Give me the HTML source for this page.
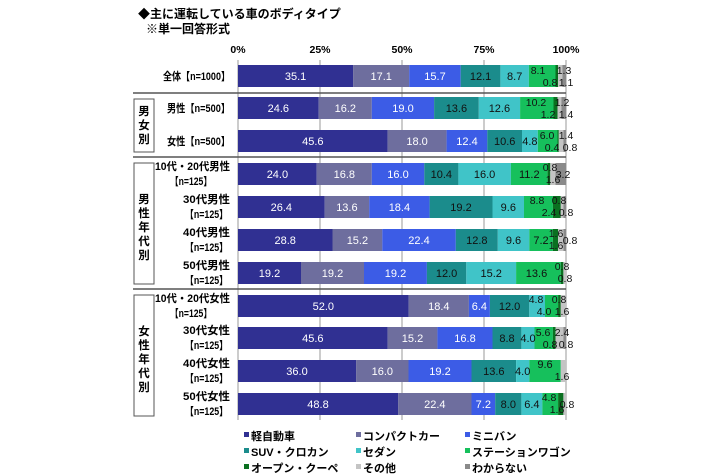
<!DOCTYPE html>
<html><head><meta charset="utf-8"><style>
body{margin:0;background:#fff}
svg{display:block;font-family:"Liberation Sans","Noto Sans CJK JP",sans-serif}
.w{fill:#fff;font-size:11px;text-anchor:middle}
.d{fill:#111;font-size:11px;text-anchor:middle}
.s{fill:#111;font-size:10.5px;text-anchor:middle}
.l{fill:#000;font-size:11px;font-weight:bold;text-anchor:start}
.g{fill:#000;font-size:11.5px;font-weight:bold;text-anchor:middle}
.lg{fill:#000;font-size:11px;font-weight:bold}
</style></head><body>
<svg width="710" height="474" viewBox="0 0 710 474">
<text x="138" y="18" style="font-size:12px;font-weight:bold">◆主に運転している車のボディタイプ</text>
<text x="146" y="33" style="font-size:12px;font-weight:bold">※単一回答形式</text>
<g style="font-size:10.5px;font-weight:bold;text-anchor:middle">
<text x="238" y="53">0%</text><text x="320" y="53">25%</text><text x="402" y="53">50%</text><text x="484" y="53">75%</text><text x="566" y="53">100%</text></g>
<g stroke="#999" stroke-width="1">
<line x1="238" y1="60" x2="238" y2="420"/><line x1="320" y1="60" x2="320" y2="420"/><line x1="402" y1="60" x2="402" y2="420"/><line x1="484" y1="60" x2="484" y2="420"/><line x1="566" y1="60" x2="566" y2="420"/>
</g>
<g stroke="#555" stroke-width="1.5">
<line x1="133" y1="93" x2="566" y2="93"/><line x1="133" y1="157" x2="566" y2="157"/><line x1="133" y1="289" x2="566" y2="289"/></g>
<g fill="none" stroke="#555" stroke-width="1">
<rect x="134" y="99" width="20" height="53"/><rect x="134" y="163" width="20" height="121"/><rect x="134" y="295" width="20" height="121"/></g>
<text class="g" x="144" y="115">男</text><text class="g" x="144" y="129">女</text><text class="g" x="144" y="143">別</text>
<text class="g" x="144" y="203">男</text><text class="g" x="144" y="217">性</text><text class="g" x="144" y="231">年</text><text class="g" x="144" y="245">代</text><text class="g" x="144" y="259">別</text>
<text class="g" x="144" y="335">女</text><text class="g" x="144" y="349">性</text><text class="g" x="144" y="363">年</text><text class="g" x="144" y="377">代</text><text class="g" x="144" y="391">別</text>
<text class="l" x="163" y="80" textLength="67" lengthAdjust="spacingAndGlyphs">全体【n=1000】</text>
<text class="l" x="167" y="112" textLength="63" lengthAdjust="spacingAndGlyphs">男性【n=500】</text>
<text class="l" x="167" y="145" textLength="63" lengthAdjust="spacingAndGlyphs">女性【n=500】</text>
<text class="l" x="155" y="170" textLength="75" lengthAdjust="spacingAndGlyphs">10代・20代男性</text><text class="l" x="170" y="185" textLength="42" lengthAdjust="spacingAndGlyphs">【n=125】</text>
<text class="l" x="183" y="203" textLength="47" lengthAdjust="spacingAndGlyphs">30代男性</text><text class="l" x="185" y="218" textLength="43" lengthAdjust="spacingAndGlyphs">【n=125】</text>
<text class="l" x="183" y="236" textLength="47" lengthAdjust="spacingAndGlyphs">40代男性</text><text class="l" x="185" y="251" textLength="43" lengthAdjust="spacingAndGlyphs">【n=125】</text>
<text class="l" x="183" y="269" textLength="47" lengthAdjust="spacingAndGlyphs">50代男性</text><text class="l" x="185" y="284" textLength="43" lengthAdjust="spacingAndGlyphs">【n=125】</text>
<text class="l" x="155" y="302" textLength="75" lengthAdjust="spacingAndGlyphs">10代・20代女性</text><text class="l" x="170" y="317" textLength="42" lengthAdjust="spacingAndGlyphs">【n=125】</text>
<text class="l" x="183" y="334" textLength="47" lengthAdjust="spacingAndGlyphs">30代女性</text><text class="l" x="185" y="349" textLength="43" lengthAdjust="spacingAndGlyphs">【n=125】</text>
<text class="l" x="183" y="367" textLength="47" lengthAdjust="spacingAndGlyphs">40代女性</text><text class="l" x="185" y="382" textLength="43" lengthAdjust="spacingAndGlyphs">【n=125】</text>
<text class="l" x="183" y="400" textLength="47" lengthAdjust="spacingAndGlyphs">50代女性</text><text class="l" x="185" y="415" textLength="43" lengthAdjust="spacingAndGlyphs">【n=125】</text>
<g>
<rect x="238" y="65" width="115.1" height="22" fill="#303092"/><rect x="353.1" y="65" width="56.1" height="22" fill="#6e6e9e"/><rect x="409.2" y="65" width="51.5" height="22" fill="#3c5ce6"/><rect x="460.7" y="65" width="39.7" height="22" fill="#1b8c8c"/><rect x="500.4" y="65" width="28.5" height="22" fill="#40c4c8"/><rect x="528.9" y="65" width="26.6" height="22" fill="#16c05c"/><rect x="555.5" y="65" width="2.6" height="22" fill="#0a7020"/><rect x="558.1" y="65" width="4.3" height="22" fill="#c4c4c4"/><rect x="562.4" y="65" width="3.6" height="22" fill="#8a8a8a"/>
<rect x="238" y="97" width="80.7" height="22" fill="#303092"/><rect x="318.7" y="97" width="53.1" height="22" fill="#6e6e9e"/><rect x="371.8" y="97" width="62.3" height="22" fill="#3c5ce6"/><rect x="434.1" y="97" width="44.7" height="22" fill="#1b8c8c"/><rect x="478.8" y="97" width="41.3" height="22" fill="#40c4c8"/><rect x="520.1" y="97" width="33.4" height="22" fill="#16c05c"/><rect x="553.5" y="97" width="4" height="22" fill="#0a7020"/><rect x="557.5" y="97" width="3.9" height="22" fill="#c4c4c4"/><rect x="561.4" y="97" width="4.6" height="22" fill="#8a8a8a"/>
<rect x="238" y="130" width="149.6" height="22" fill="#303092"/><rect x="387.6" y="130" width="59" height="22" fill="#6e6e9e"/><rect x="446.6" y="130" width="40.7" height="22" fill="#3c5ce6"/><rect x="487.3" y="130" width="34.7" height="22" fill="#1b8c8c"/><rect x="522" y="130" width="15.8" height="22" fill="#40c4c8"/><rect x="537.8" y="130" width="19.7" height="22" fill="#16c05c"/><rect x="557.5" y="130" width="1.3" height="22" fill="#0a7020"/><rect x="558.8" y="130" width="4.6" height="22" fill="#c4c4c4"/><rect x="563.4" y="130" width="2.6" height="22" fill="#8a8a8a"/>
<rect x="238" y="163" width="78.7" height="22" fill="#303092"/><rect x="316.7" y="163" width="55.1" height="22" fill="#6e6e9e"/><rect x="371.8" y="163" width="52.5" height="22" fill="#3c5ce6"/><rect x="424.3" y="163" width="34.1" height="22" fill="#1b8c8c"/><rect x="458.4" y="163" width="52.5" height="22" fill="#40c4c8"/><rect x="510.9" y="163" width="36.7" height="22" fill="#16c05c"/><rect x="547.6" y="163" width="2.7" height="22" fill="#0a7020"/><rect x="550.3" y="163" width="5.2" height="22" fill="#c4c4c4"/><rect x="555.5" y="163" width="10.5" height="22" fill="#8a8a8a"/>
<rect x="238" y="196" width="86.6" height="22" fill="#303092"/><rect x="324.6" y="196" width="44.6" height="22" fill="#6e6e9e"/><rect x="369.2" y="196" width="60.4" height="22" fill="#3c5ce6"/><rect x="429.6" y="196" width="62.9" height="22" fill="#1b8c8c"/><rect x="492.5" y="196" width="31.5" height="22" fill="#40c4c8"/><rect x="524" y="196" width="28.9" height="22" fill="#16c05c"/><rect x="552.9" y="196" width="7.9" height="22" fill="#0a7020"/><rect x="560.8" y="196" width="2.6" height="22" fill="#c4c4c4"/><rect x="563.4" y="196" width="2.6" height="22" fill="#8a8a8a"/>
<rect x="238" y="229" width="94.5" height="22" fill="#303092"/><rect x="332.5" y="229" width="49.8" height="22" fill="#6e6e9e"/><rect x="382.3" y="229" width="73.5" height="22" fill="#3c5ce6"/><rect x="455.8" y="229" width="42" height="22" fill="#1b8c8c"/><rect x="497.8" y="229" width="31.5" height="22" fill="#40c4c8"/><rect x="529.3" y="229" width="23.6" height="22" fill="#16c05c"/><rect x="552.9" y="229" width="5.2" height="22" fill="#0a7020"/><rect x="558.1" y="229" width="5.3" height="22" fill="#c4c4c4"/><rect x="563.4" y="229" width="2.6" height="22" fill="#8a8a8a"/>
<rect x="238" y="262" width="63" height="22" fill="#303092"/><rect x="301" y="262" width="63" height="22" fill="#6e6e9e"/><rect x="364" y="262" width="62.9" height="22" fill="#3c5ce6"/><rect x="426.9" y="262" width="39.4" height="22" fill="#1b8c8c"/><rect x="466.3" y="262" width="49.8" height="22" fill="#40c4c8"/><rect x="516.1" y="262" width="44.7" height="22" fill="#16c05c"/><rect x="560.8" y="262" width="2.6" height="22" fill="#0a7020"/><rect x="563.4" y="262" width="2.6" height="22" fill="#c4c4c4"/>
<rect x="238" y="295" width="170.6" height="22" fill="#303092"/><rect x="408.6" y="295" width="60.3" height="22" fill="#6e6e9e"/><rect x="468.9" y="295" width="21" height="22" fill="#3c5ce6"/><rect x="489.9" y="295" width="39.4" height="22" fill="#1b8c8c"/><rect x="529.3" y="295" width="15.7" height="22" fill="#40c4c8"/><rect x="545" y="295" width="13.1" height="22" fill="#16c05c"/><rect x="558.1" y="295" width="2.7" height="22" fill="#0a7020"/><rect x="560.8" y="295" width="5.2" height="22" fill="#c4c4c4"/>
<rect x="238" y="327" width="149.6" height="22" fill="#303092"/><rect x="387.6" y="327" width="49.8" height="22" fill="#6e6e9e"/><rect x="437.4" y="327" width="55.1" height="22" fill="#3c5ce6"/><rect x="492.5" y="327" width="28.9" height="22" fill="#1b8c8c"/><rect x="521.4" y="327" width="13.1" height="22" fill="#40c4c8"/><rect x="534.5" y="327" width="18.4" height="22" fill="#16c05c"/><rect x="552.9" y="327" width="2.6" height="22" fill="#0a7020"/><rect x="555.5" y="327" width="7.9" height="22" fill="#c4c4c4"/><rect x="563.4" y="327" width="2.6" height="22" fill="#8a8a8a"/>
<rect x="238" y="360" width="118.1" height="22" fill="#303092"/><rect x="356.1" y="360" width="52.4" height="22" fill="#6e6e9e"/><rect x="408.5" y="360" width="63" height="22" fill="#3c5ce6"/><rect x="471.5" y="360" width="44.6" height="22" fill="#1b8c8c"/><rect x="516.1" y="360" width="13.2" height="22" fill="#40c4c8"/><rect x="529.3" y="360" width="31.5" height="22" fill="#16c05c"/><rect x="560.8" y="360" width="5.2" height="22" fill="#c4c4c4"/>
<rect x="238" y="393" width="160.1" height="22" fill="#303092"/><rect x="398.1" y="393" width="73.4" height="22" fill="#6e6e9e"/><rect x="471.5" y="393" width="23.7" height="22" fill="#3c5ce6"/><rect x="495.2" y="393" width="26.2" height="22" fill="#1b8c8c"/><rect x="521.4" y="393" width="21" height="22" fill="#40c4c8"/><rect x="542.4" y="393" width="15.7" height="22" fill="#16c05c"/><rect x="558.1" y="393" width="5.3" height="22" fill="#0a7020"/><rect x="563.4" y="393" width="2.6" height="22" fill="#c4c4c4"/>
</g>
<text class="w" x="295.6" y="80">35.1</text><text class="w" x="381.2" y="80">17.1</text><text class="w" x="435" y="80">15.7</text><text class="d" x="480.6" y="80">12.1</text><text class="d" x="514.7" y="80">8.7</text><text class="s" x="538" y="74">8.1</text><text class="s" x="550" y="86">0.8</text><text class="s" x="564" y="74">1.3</text><text class="s" x="566" y="86">1.1</text>
<text class="w" x="278.3" y="112">24.6</text><text class="w" x="345.3" y="112">16.2</text><text class="w" x="403" y="112">19.0</text><text class="d" x="456.4" y="112">13.6</text><text class="d" x="499.4" y="112">12.6</text><text class="s" x="536" y="106">10.2</text><text class="s" x="548" y="118">1.2</text><text class="s" x="562" y="106">1.2</text><text class="s" x="566" y="118">1.4</text>
<text class="w" x="312.8" y="145">45.6</text><text class="w" x="417.1" y="145">18.0</text><text class="w" x="467" y="145">12.4</text><text class="d" x="504.7" y="145">10.6</text><text class="d" x="529.9" y="145">4.8</text><text class="s" x="547" y="139">6.0</text><text class="s" x="552" y="151">0.4</text><text class="s" x="566" y="139">1.4</text><text class="s" x="570" y="151">0.8</text>
<text class="w" x="277.4" y="178">24.0</text><text class="w" x="344.3" y="178">16.8</text><text class="w" x="398" y="178">16.0</text><text class="d" x="441.3" y="178">10.4</text><text class="d" x="484.6" y="178">16.0</text><text class="d" x="529.3" y="178">11.2</text><text class="s" x="550" y="171">0.8</text><text class="s" x="553" y="183">1.6</text><text class="s" x="563" y="178">3.2</text>
<text class="w" x="281.3" y="211">26.4</text><text class="w" x="346.9" y="211">13.6</text><text class="w" x="399.4" y="211">18.4</text><text class="d" x="461" y="211">19.2</text><text class="d" x="508.3" y="211">9.6</text><text class="s" x="537" y="204">8.8</text><text class="s" x="549" y="216">2.4</text><text class="s" x="559" y="204">0.8</text><text class="s" x="566" y="216">0.8</text>
<text class="w" x="285.2" y="244">28.8</text><text class="w" x="357.4" y="244">15.2</text><text class="w" x="419" y="244">22.4</text><text class="d" x="476.8" y="244">12.8</text><text class="d" x="513.5" y="244">9.6</text><text class="d" x="541" y="244">7.2</text><text class="s" x="556" y="237">1.6</text><text class="s" x="556" y="249">1.6</text><text class="s" x="570" y="244">0.8</text>
<text class="w" x="269.5" y="277">19.2</text><text class="w" x="332.5" y="277">19.2</text><text class="w" x="395.5" y="277">19.2</text><text class="d" x="446.6" y="277">12.0</text><text class="d" x="491.2" y="277">15.2</text><text class="d" x="536.5" y="277">13.6</text><text class="s" x="562" y="270">0.8</text><text class="s" x="565" y="282">0.8</text>
<text class="w" x="323.3" y="310">52.0</text><text class="w" x="438.8" y="310">18.4</text><text class="w" x="479.4" y="310">6.4</text><text class="d" x="509.6" y="310">12.0</text><text class="s" x="536" y="303">4.8</text><text class="s" x="544" y="315">4.0</text><text class="s" x="559" y="303">0.8</text><text class="s" x="562" y="315">1.6</text>
<text class="w" x="312.8" y="342">45.6</text><text class="w" x="412.5" y="342">15.2</text><text class="w" x="465" y="342">16.8</text><text class="d" x="507" y="342">8.8</text><text class="d" x="528" y="342">4.0</text><text class="s" x="543" y="336">5.6</text><text class="s" x="550" y="348">0.8</text><text class="s" x="562" y="336">2.4</text><text class="s" x="566" y="348">0.8</text>
<text class="w" x="297" y="375">36.0</text><text class="w" x="382.3" y="375">16.0</text><text class="w" x="440" y="375">19.2</text><text class="d" x="493.8" y="375">13.6</text><text class="d" x="522.7" y="375">4.0</text><text class="d" x="545" y="368">9.6</text><text class="s" x="562" y="380">1.6</text>
<text class="w" x="318" y="408">48.8</text><text class="w" x="434.8" y="408">22.4</text><text class="w" x="483.3" y="408">7.2</text><text class="d" x="508.3" y="408">8.0</text><text class="d" x="531.9" y="408">6.4</text><text class="s" x="549" y="401">4.8</text><text class="s" x="557" y="413">1.6</text><text class="s" x="567" y="408">0.8</text>
<rect x="244" y="432" width="5" height="5" fill="#303092"/><text class="lg" x="251" y="440">軽自動車</text>
<rect x="356" y="432" width="5" height="5" fill="#6e6e9e"/><text class="lg" x="363" y="440">コンパクトカー</text>
<rect x="465" y="432" width="5" height="5" fill="#3c5ce6"/><text class="lg" x="472" y="440">ミニバン</text>
<rect x="244" y="448" width="5" height="5" fill="#1b8c8c"/><text class="lg" x="251" y="456">SUV・クロカン</text>
<rect x="356" y="448" width="5" height="5" fill="#40c4c8"/><text class="lg" x="363" y="456">セダン</text>
<rect x="465" y="448" width="5" height="5" fill="#16c05c"/><text class="lg" x="472" y="456">ステーションワゴン</text>
<rect x="244" y="464" width="5" height="5" fill="#0a7020"/><text class="lg" x="251" y="472">オープン・クーペ</text>
<rect x="356" y="464" width="5" height="5" fill="#c4c4c4"/><text class="lg" x="363" y="472">その他</text>
<rect x="465" y="464" width="5" height="5" fill="#8a8a8a"/><text class="lg" x="472" y="472">わからない</text>
</svg>
</body></html>
